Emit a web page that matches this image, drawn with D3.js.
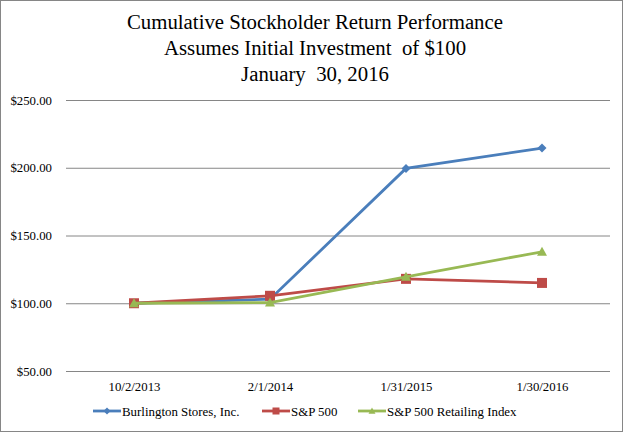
<!DOCTYPE html>
<html>
<head>
<meta charset="utf-8">
<script src="https://cdn.jsdelivr.net/npm/d3@7"></script>
<style>
  body { margin: 0; background: #fff; }
  svg text { font-family: "Liberation Serif", "Times New Roman", "DejaVu Serif", serif; }
</style>
</head>
<body>
<div id="chart"></div>
<script>
// Chart data
const dates = ["10/2/2013", "2/1/2014", "1/31/2015", "1/30/2016"];
const burlington = [100, 103, 199.5, 214.5];
const sp500 = [100, 105.5, 118, 115];
const retailing = [100, 100.5, 119.5, 138];
const yTicks = [50, 100, 150, 200, 250];
const titleLines = [
  "Cumulative Stockholder Return Performance",
  "Assumes Initial Investment  of $100",
  "January  30, 2016"
];

const series = [
  { name: "Burlington Stores, Inc.", values: burlington, color: "#4a7ebb", shape: "diamond" },
  { name: "S&P 500", values: sp500, color: "#be4b48", shape: "square" },
  { name: "S&P 500 Retailing Index", values: retailing, color: "#98b954", shape: "triangle" }
];

const serif = "Liberation Serif";
const width = 624,
      height = 433;
const margin = { top: 100, right: 14, bottom: 62, left: 66 };

const svg = d3.select("#chart")
  .append("svg")
  .attr("width", width)
  .attr("height", height);

// Outer border
svg.append("rect")
  .attr("x", 0.5).attr("y", 0.5)
  .attr("width", width - 2).attr("height", height - 2)
  .attr("fill", "#fff")
  .attr("stroke", "#868686");

// Title
svg.append("g")
  .selectAll("text")
  .data(titleLines)
  .join("text")
  .attr("x", 315)
  .attr("y", (d, i) => 29 + i * 26)
  .attr("text-anchor", "middle")
  .attr("font-family", serif)
  .attr("font-size", 20.8)
  .attr("fill", "#000")
  .style("white-space", "pre")
  .text(d => d);

// Scales
const xScale = d3.scalePoint()
  .domain(dates)
  .range([margin.left, width - margin.right])
  .padding(0.5);
const yScale = d3.scaleLinear()
  .domain([50, 250])
  .range([height - margin.bottom, margin.top]);

// Gridlines and y labels
const yAxis = svg.append("g")
  .attr("transform", `translate(${margin.left}, 0)`)
  .call(d3.axisLeft(yScale)
    .tickValues(yTicks)
    .tickSize(-(width - margin.right - margin.left))
    .tickPadding(14)
    .tickFormat(d => "$" + d.toFixed(2)));
yAxis.attr("font-family", serif);
yAxis.select(".domain").remove();
yAxis.selectAll(".tick line").attr("stroke", "#868686").attr("stroke-width", 1);
yAxis.selectAll(".tick text")
  .attr("font-size", 12.8)
  .attr("fill", "#000");

// X labels
const xAxis = svg.append("g")
  .attr("transform", `translate(0, ${height - margin.bottom})`)
  .call(d3.axisBottom(xScale).tickSize(0).tickPadding(11));
xAxis.attr("font-family", serif);
xAxis.select(".domain").remove();
xAxis.selectAll(".tick text")
  .attr("font-size", 12.8)
  .attr("fill", "#000");

// Marker drawing
function marker(g, shape, color, size) {
  if (shape === "diamond") {
    g.append("path")
      .attr("d", `M0,${-size}L${size},0L0,${size}L${-size},0Z`)
      .attr("fill", color);
  } else if (shape === "square") {
    g.append("rect")
      .attr("x", -size).attr("y", -size)
      .attr("width", size * 2).attr("height", size * 2)
      .attr("fill", color);
  } else {
    g.append("path")
      .attr("d", `M0,${-size}L${size},${size * 0.8}L${-size},${size * 0.8}Z`)
      .attr("fill", color);
  }
}

const line = d3.line()
  .x((d, i) => xScale(dates[i]))
  .y(d => yScale(d));

series.forEach(s => {
  svg.append("path")
    .datum(s.values)
    .attr("d", line)
    .attr("fill", "none")
    .attr("stroke", s.color)
    .attr("stroke-width", 2.8);
  s.values.forEach((v, i) => {
    const g = svg.append("g")
      .attr("transform", `translate(${xScale(dates[i])}, ${yScale(v)})`);
    marker(g, s.shape, s.color, s.shape === "diamond" ? 4.5 : 5);
  });
});

// Legend
const legendX = [93, 262, 358];
series.forEach((s, i) => {
  const g = svg.append("g").attr("transform", `translate(${legendX[i]}, 411)`);
  g.append("line")
    .attr("x1", 0).attr("x2", 28)
    .attr("stroke", s.color)
    .attr("stroke-width", 2.8);
  marker(g.append("g").attr("transform", "translate(14,0)"), s.shape, s.color, 3.5);
  g.append("text")
    .attr("x", 29)
    .attr("y", 4.5)
    .attr("font-family", serif)
    .attr("font-size", 12.9)
    .attr("fill", "#000")
    .text(s.name);
});
</script>
</body>
</html>
